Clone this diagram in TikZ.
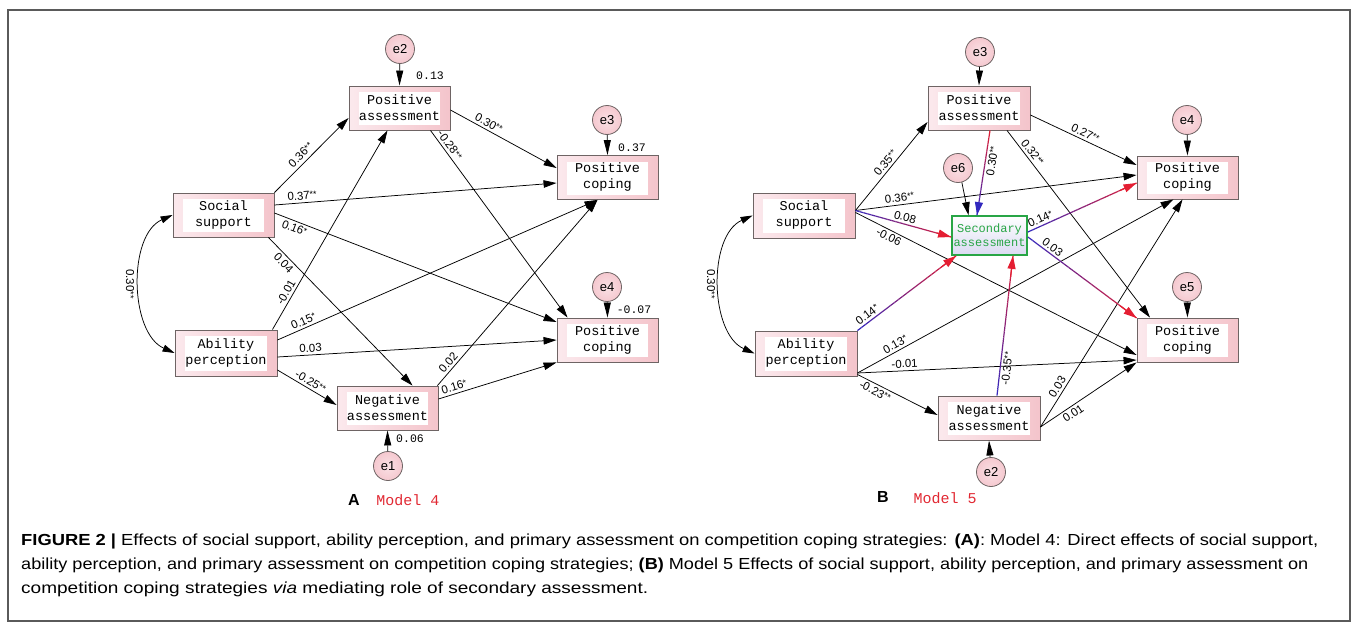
\documentclass[tikz,border=0pt]{standalone}
\usepackage{graphicx}
\usepackage{fontspec}
\setmainfont{Liberation Sans}
\newfontfamily\boxfont{Liberation Mono}
\usetikzlibrary{arrows.meta,calc,shapes.geometric}
\definecolor{pinkR}{RGB}{244,196,203}
\definecolor{pinkL}{RGB}{251,233,237}
\definecolor{bordergray}{RGB}{110,100,100}
\definecolor{epink}{RGB}{245,200,207}
\definecolor{cred}{RGB}{228,30,50}
\definecolor{cblue}{RGB}{50,40,190}
\definecolor{sgreen}{RGB}{40,165,70}
\definecolor{lav}{RGB}{218,218,242}
\definecolor{modelred}{RGB}{225,40,50}
\definecolor{framegray}{RGB}{90,90,90}
\newcommand\sig[1]{\raisebox{1.5pt}{\fontsize{9}{9}\selectfont #1}}
\newcommand\gradedge[6]{%
  \coordinate (gs) at (#1);
  \coordinate (ge) at (#2);
  \foreach \i in {0,...,23}{%
    \pgfmathsetmacro\ta{\i/24}%
    \pgfmathsetmacro\tb{(\i+1)/24}%
    \pgfmathtruncatemacro\pc{round((\i+0.5)/24*100)}%
    \draw[line width=1.2pt, color=#4!\pc!#3] ($(gs)!\ta!(ge)$) -- ($(gs)!\tb!(ge)$);}%
  \draw[line width=1.2pt, color=#4, -{Triangle[length=13pt,width=8pt]}] ($(gs)!0.85!(ge)$) -- (ge);
  \path (gs) -- (ge) node[lab,#5]{#6};
}
\begin{document}
\begin{tikzpicture}[x=1pt,y=-1pt,
  var/.style={draw=bordergray, line width=0.9pt, left color=pinkL, right color=pinkR,
    minimum width=101pt, minimum height=44pt, inner sep=0pt, align=center,
    font=\boxfont\fontsize{13.5}{16}\selectfont,
    path picture={\fill[white] ([xshift=10pt,yshift=5pt]path picture bounding box.south west) rectangle ([xshift=-10pt,yshift=-6pt]path picture bounding box.north east);}},
  sa/.style={draw=sgreen, line width=1.8pt, top color=white, bottom color=lav,
    minimum width=75pt, minimum height=39pt, inner sep=0pt, align=center, text=sgreen,
    font=\boxfont\fontsize{12}{14}\selectfont},
  err/.style={circle, draw=bordergray, line width=0.8pt, inner color=white!45!epink, outer color=epink,
    minimum size=29pt, inner sep=0pt, font=\fontsize{13}{13}\selectfont},
  ln/.style={line width=0.75pt, -{Triangle[length=13pt,width=7.5pt]}},
  eln/.style={line width=0.75pt, -{Triangle[length=15pt,width=7pt]}},
  cov/.style={line width=0.75pt, {Triangle[length=12pt,width=7pt]}-{Triangle[length=12pt,width=7pt]}},
  lab/.style={font=\fontsize{11.5}{12}\selectfont, inner sep=1.5pt, sloped},
  clab/.style={font=\fontsize{11.5}{12}\selectfont, inner sep=1pt, rotate=-90},
  val/.style={font=\boxfont\fontsize{11.5}{12}\selectfont, inner sep=1pt},
  captext/.style={anchor=west, inner sep=0pt, font=\fontsize{16}{16}\selectfont},
]
\useasboundingbox (0,0) rectangle (1358,629);
\draw[framegray, line width=1.2pt] (8,10) rectangle (1350,621);

% ---------------- Model 4 ----------------
\node[var] (paA) at (399.5,108) {Positive\\assessment};
\node[var] (ssA) at (223.5,215) {Social\\support};
\node[var] (pc1A) at (607.5,177.5) {Positive\\coping};
\node[var] (pc2A) at (607.5,340) {Positive\\coping};
\node[var, minimum width=102pt, minimum height=46pt] (apA) at (226,353) {Ability\\perception};
\node[var] (naA) at (387.5,408) {Negative\\assessment};
\node[err] (e2A) at (400,49) {e2};
\node[err] (e3A) at (607,120) {e3};
\node[err] (e4A) at (607,287) {e4};
\node[err] (e1A) at (388,466) {e1};
\draw[eln] (e2A) -- (paA.north);
\draw[eln] (e3A) -- (pc1A.north);
\draw[eln] (e4A) -- (pc2A.north);
\draw[eln] (e1A) -- (naA.south);
\node[val] (v13) at (430,76) {0.13};
\node[val] (v37) at (632,148) {0.37};
\node[val] (v07) at (634,310) {-0.07};
\node[val] (v06) at (410,439) {0.06};

\draw[ln] (ssA.north east) -- ($(paA.west)+(0,10)$) node[lab,pos=.43,above=2pt]{0.36\sig{**}};
\draw[ln] ($(ssA.east)+(0,-10)$) -- ($(pc1A.west)+(0,5.5)$) node[lab,pos=.1,above=1pt]{0.37\sig{**}};
\draw[ln] ($(ssA.east)+(0,-2)$) -- ($(pc2A.west)+(0,-18)$) node[lab,pos=.08,below=1pt]{0.16\sig{*}};
\draw[ln] ($(ssA.south east)+(-6,0)$) -- ($(naA.north)+(25,0)$) node[lab,pos=.14,below=1pt]{0.04};
\draw[ln] ($(apA.north east)+(-5,0)$) -- ($(paA.south)+(-12,0)$) node[lab,pos=.17,above=1pt]{-0.01};
\draw[ln] ($(apA.east)+(0,-13)$) -- ($(pc1A.south)+(-10,0)$) node[lab,pos=.09,above=1pt]{0.15\sig{*}};
\draw[ln] ($(apA.east)+(0,4)$) -- (pc2A.west) node[lab,pos=.12,above=1pt]{0.03};
\draw[ln] ($(apA.east)+(0,17)$) -- ($(naA.west)+(0,-3)$) node[lab,pos=.5,above=1pt]{-0.25\sig{**}};
\draw[ln] ($(paA.east)+(0,2)$) -- ($(pc1A.west)+(0,-9.5)$) node[lab,pos=.33,above=1pt]{0.30\sig{**}};
\draw[ln] ($(paA.south)+(31,0)$) -- ($(pc2A.north)+(-40,0)$) node[lab,pos=.1,above=1pt]{-0.28\sig{**}};
\draw[ln] ($(naA.north east)+(-1,0)$) -- ($(pc1A.south)+(-10,0)$) node[lab,pos=.1,above=1pt]{0.02};
\draw[ln] ($(naA.east)+(0,-9)$) -- (pc2A.south west) node[lab,pos=.15,above=1pt]{0.16\sig{*}};
\draw[cov] (ssA.west) .. controls ($(ssA.west)+(-45,20)$) and ($(apA.west)+(-45,-20)$) .. (apA.west);
\node[clab] (covA) at (130,284) {0.30\sig{**}};
\node[font=\bfseries\fontsize{16}{16}\selectfont] (labA) at (354,500) {A};
\node[font=\boxfont\fontsize{15}{15}\selectfont, text=modelred] (m4) at (408,500) {Model 4};

% ---------------- Model 5 ----------------
\node[var, minimum width=102pt] (paB) at (979,108) {Positive\\assessment};
\node[var, minimum width=102pt, minimum height=45pt] (ssB) at (804,215.5) {Social\\support};
\node[sa] (scB) at (989.5,235.5) {Secondary\\assessment};
\node[var, minimum height=43pt] (pc1B) at (1187.5,177.5) {Positive\\coping};
\node[var] (pc2B) at (1187.5,340) {Positive\\coping};
\node[var, minimum width=102pt, minimum height=45pt] (apB) at (806,353.5) {Ability\\perception};
\node[var, minimum width=102pt] (naB) at (989,418) {Negative\\assessment};
\node[err] (e3B) at (980,52) {e3};
\node[err] (e6B) at (958,168) {e6};
\node[err] (e4B) at (1187,120) {e4};
\node[err] (e5B) at (1187,287) {e5};
\node[err] (e2B) at (991,472) {e2};
\draw[eln] (e3B) -- (paB.north);
\draw[eln] (e4B) -- (pc1B.north);
\draw[eln] (e5B) -- (pc2B.north);
\draw[eln] (e2B) -- (naB.south);
\draw[ln] (e6B.-75) -- ($(scB.north)+(-21,0)$);

\draw[ln] ($(ssB.east)+(0,-5)$) -- ($(paB.west)+(0,14)$) node[lab,pos=.49,above=1pt]{0.35\sig{**}};
\draw[ln] ($(ssB.east)+(0,-5)$) -- ($(pc1B.west)+(0,-2.5)$) node[lab,pos=.16,above=1pt]{0.36\sig{**}};
\draw[ln] ($(ssB.east)+(0,-3)$) -- ($(pc2B.west)+(0,15)$) node[lab,pos=.13,below=1pt]{-0.06};
\draw[ln] ($(paB.east)+(0,7)$) -- ($(pc1B.west)+(0,-12.5)$) node[lab,pos=.49,above=1pt]{0.27\sig{**}};
\draw[ln] ($(paB.south)+(28,0)$) -- ($(pc2B.north)+(-37.5,0)$) node[lab,pos=.14,above=1pt]{0.32\sig{**}};
\draw[ln] ($(apB.east)+(0,19.5)$) -- ($(pc1B.south)+(-14,0)$) node[lab,pos=.13,above=1pt]{0.13\sig{*}};
\draw[ln] ($(apB.east)+(0,19.5)$) -- ($(pc2B.west)+(0,20)$) node[lab,pos=.17,above=1pt]{-0.01};
\draw[ln] ($(apB.east)+(0,21)$) -- ($(naB.west)+(0,-3)$) node[lab,pos=.26,below=1pt]{-0.23\sig{**}};
\draw[ln] ($(naB.east)+(0,9)$) -- ($(pc1B.south)+(-5,0)$) node[lab,pos=.16,above=1pt]{0.03};
\draw[ln] ($(naB.east)+(0,9)$) -- (pc2B.south west) node[lab,pos=.3,below=1pt]{0.01};

\gradedge{$(ssB.east)+(0,-5)$}{$(scB.west)+(0,1.5)$}{cblue}{cred}{pos=.5,above=1pt}{0.08}
\gradedge{$(paB.south)+(11,0)$}{$(scB.north)+(-12.5,0)$}{cred}{cblue}{pos=.35,below=1pt}{0.30\sig{**}}
\gradedge{$(scB.east)+(0,-3.5)$}{$(pc1B.west)+(0,5.5)$}{cblue}{cred}{pos=.14,above=1pt}{0.14\sig{*}}
\gradedge{$(scB.east)+(0,1.5)$}{$(pc2B.west)+(0,-22)$}{cblue}{cred}{pos=.19,above=1pt}{0.03}
\gradedge{apB.north east}{$(scB.south west)+(5,0)$}{cblue}{cred}{pos=.14,above=1pt}{0.14\sig{*}}
\gradedge{$(naB.north)+(8,0)$}{$(scB.south)+(23.5,0)$}{cblue}{cred}{pos=.2,below=1pt}{-0.35\sig{**}}

\draw[cov] (ssB.west) .. controls ($(ssB.west)+(-45,20)$) and ($(apB.west)+(-45,-20)$) .. (apB.west);
\node[clab] (covB) at (711,284) {0.30\sig{**}};
\node[font=\bfseries\fontsize{16}{16}\selectfont] (labB) at (883,497) {B};
\node[font=\boxfont\fontsize{15}{15}\selectfont, text=modelred] (m5) at (945,498) {Model 5};

% ---------------- caption ----------------
\node[captext] (cap1) at (21,541)
  {\resizebox{1297pt}{\height}{\textbf{FIGURE 2 |} Effects of social support, ability perception, and primary assessment on competition coping strategies: \textbf{(A)}: Model 4: Direct effects of social support,}};
\node[captext] (cap2) at (21,565)
  {\resizebox{1287pt}{\height}{ability perception, and primary assessment on competition coping strategies; \textbf{(B)} Model 5 Effects of social support, ability perception, and primary assessment on}};
\node[captext] (cap3) at (21,589)
  {\resizebox{627pt}{\height}{competition coping strategies \textit{via} mediating role of secondary assessment.}};
\end{tikzpicture}
\end{document}
